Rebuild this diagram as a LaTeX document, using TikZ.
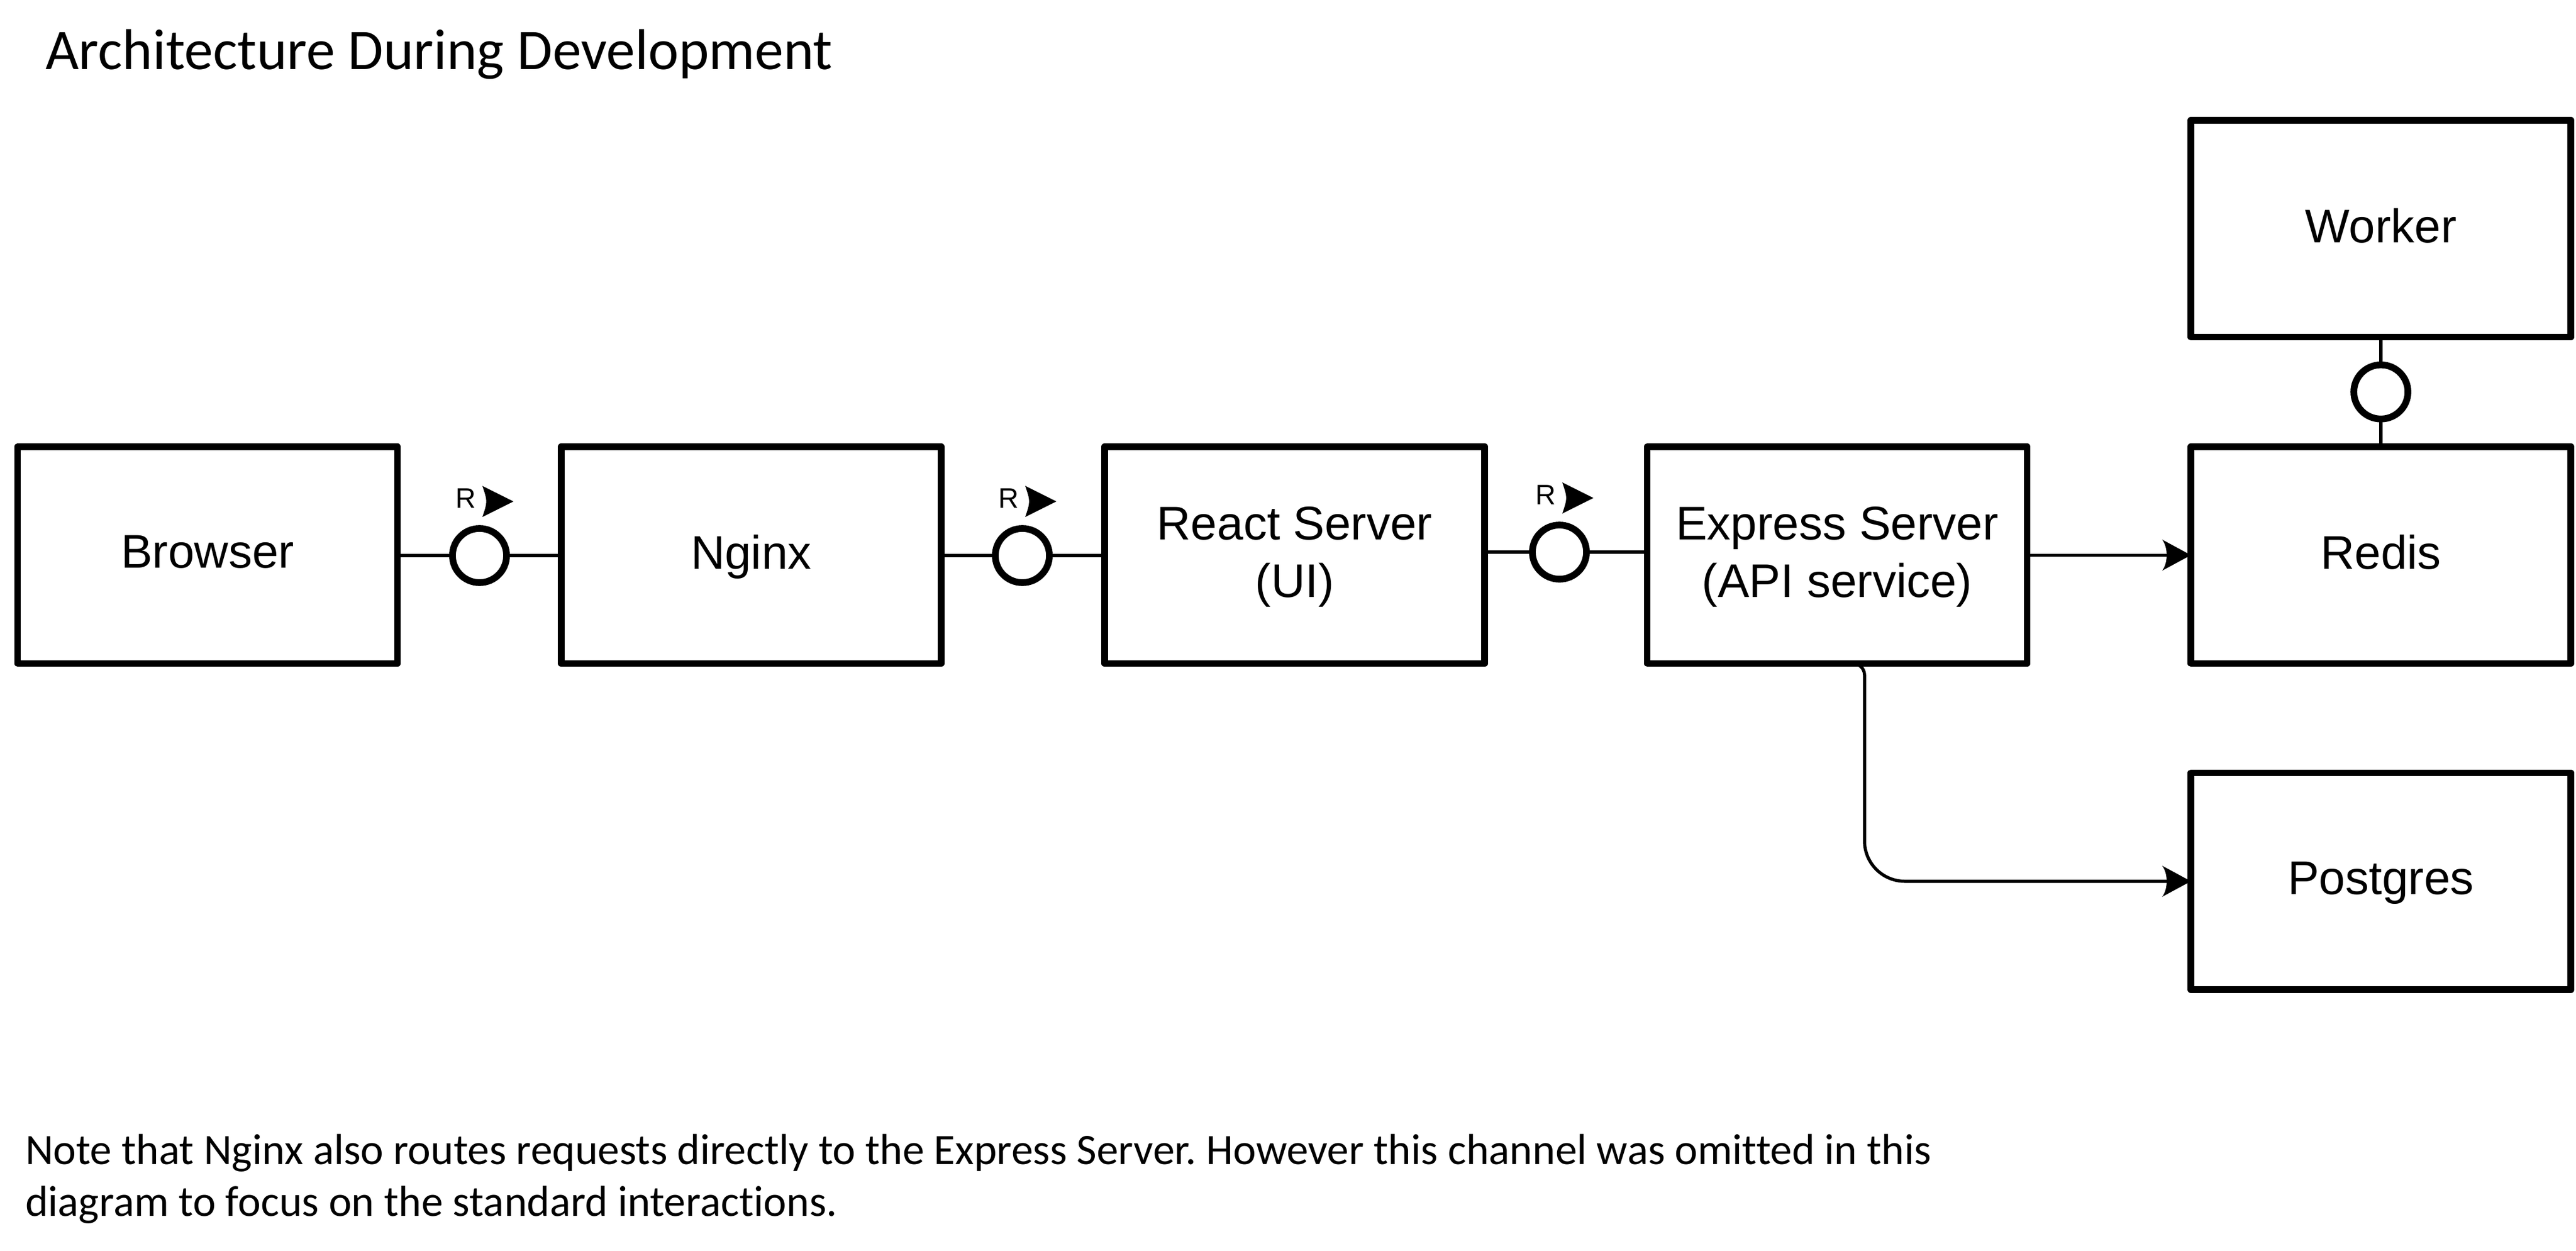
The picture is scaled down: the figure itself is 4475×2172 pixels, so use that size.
\documentclass[tikz,border=0pt]{standalone}
\usepackage{fontspec}
\usetikzlibrary{arrows.meta,calc}
\newfontfamily\arialf{Liberation Sans}
\newfontfamily\calf[Ligatures={NoCommon}]{Carlito}
\frenchspacing
\pgfdeclarearrow{
  name = Vtip,
  parameters = {\the\pgfarrowlength,\the\pgfarrowwidth,\the\pgfarrowinset},
  setup code = {
    \pgfarrowssettipend{0pt}
    \pgfarrowssetbackend{-\pgfarrowlength}
    \pgfarrowssetlineend{-0.5\pgfarrowlength}
    \pgfarrowssavethe\pgfarrowlength
    \pgfarrowssavethe\pgfarrowwidth
    \pgfarrowssavethe\pgfarrowinset
  },
  drawing code = {
    \pgfpathmoveto{\pgfqpoint{0pt}{0pt}}
    \pgfpathlineto{\pgfpoint{-\pgfarrowlength}{0.5\pgfarrowwidth}}
    \pgfpathcurveto{\pgfpoint{-\pgfarrowlength+\pgfarrowinset}{0.25\pgfarrowwidth}}{\pgfpoint{-\pgfarrowlength+\pgfarrowinset}{-0.25\pgfarrowwidth}}{\pgfpoint{-\pgfarrowlength}{-0.5\pgfarrowwidth}}
    \pgfpathclose
    \pgfusepathqfill
  },
  defaults = {length=10pt, width=10.8pt, inset=2.1pt}
}
\tikzset{
  box/.style={draw, line width=2.3pt, line join=round, minimum width=132pt,
    minimum height=75.3pt, inner sep=0pt, outer sep=0pt, align=center,
    text depth=2.2pt, font=\arialf\fontsize{16.4pt}{20pt}\selectfont},
  port/.style={draw, circle, line width=2.34pt, fill=white, minimum size=18.8pt,
    inner sep=0pt, outer sep=0pt},
  conn/.style={line width=1.1pt, line cap=butt},
  rlab/.style={font=\arialf\fontsize{9.8pt}{11pt}\selectfont, inner sep=0pt, anchor=base},
  ttl/.style={font=\calf\fontsize{20pt}{24pt}\selectfont, inner sep=0pt, anchor=base west},
  notetext/.style={font=\calf\fontsize{15.08pt}{18pt}\selectfont, inner sep=0pt, anchor=base west},
}
\begin{document}
\begin{tikzpicture}[x=0.2pt,y=-0.2pt]
\useasboundingbox (0,0) rectangle (4475,2172);
\fill[white] (0,0) rectangle (4475,2172);

\node[ttl] (title) at (78,120) {Architecture During Development};

\node[box] (br) at (360.6,964.25) {Browser};
\node[box] (ng) at (1305,964.25) {Nginx};
\node[box] (rc) at (2249,964.25) {React Server\\(UI)};
\node[box] (ex) at (3191.5,964.25) {Express Server\\(API service)};
\node[box] (rd) at (4136,964.25) {Redis};
\node[box] (wk) at (4136,397.25) {Worker};
\node[box] (pg) at (4136,1530.75) {Postgres};

\node[port] (c1) at (833,965) {};
\node[port] (c2) at (1776,965) {};
\node[port] (c3) at (2709,959) {};
\node[port] (c4) at (4136,680.75) {};

\draw[conn] (c1 -| br.east) -- (c1) (c1) -- (c1 -| ng.west);
\draw[conn] (c2 -| ng.east) -- (c2) (c2) -- (c2 -| rc.west);
\draw[conn] (c3 -| rc.east) -- (c3) (c3) -- (c3 -| ex.west);
\draw[conn] (wk.south) -- (c4) (c4) -- (rd.north);

\foreach \p in {c1,c2,c3}{
  \node[rlab] (r-\p) at ($(\p)+(-24,-83)$) {R};
  \fill ($(\p)+(5,-121)$) -- ($(\p)+(59,-94)$) -- ($(\p)+(5,-67)$)
     .. controls ($(\p)+(14,-94)$) .. ($(\p)+(5,-121)$) -- cycle;
}

\draw[conn,-Vtip] (ex.east) -- (rd.west);
\draw[conn,-Vtip] ($(ex.south)+(27.5,0)$) .. controls (3230,1152.5) and (3239,1161.5) .. (3239,1172.5)
   -- (3239,1460.75) .. controls (3239,1499.4) and (3270.4,1530.75) .. (3309,1530.75) -- (pg.west);

\node[notetext] (note1) at (43,2022) {Note that Nginx also routes requests directly to the Express Server. However this channel was omitted in this};
\node[notetext] (note2) at (43,2112) {diagram to focus on the standard interactions.};
\end{tikzpicture}
\end{document}
